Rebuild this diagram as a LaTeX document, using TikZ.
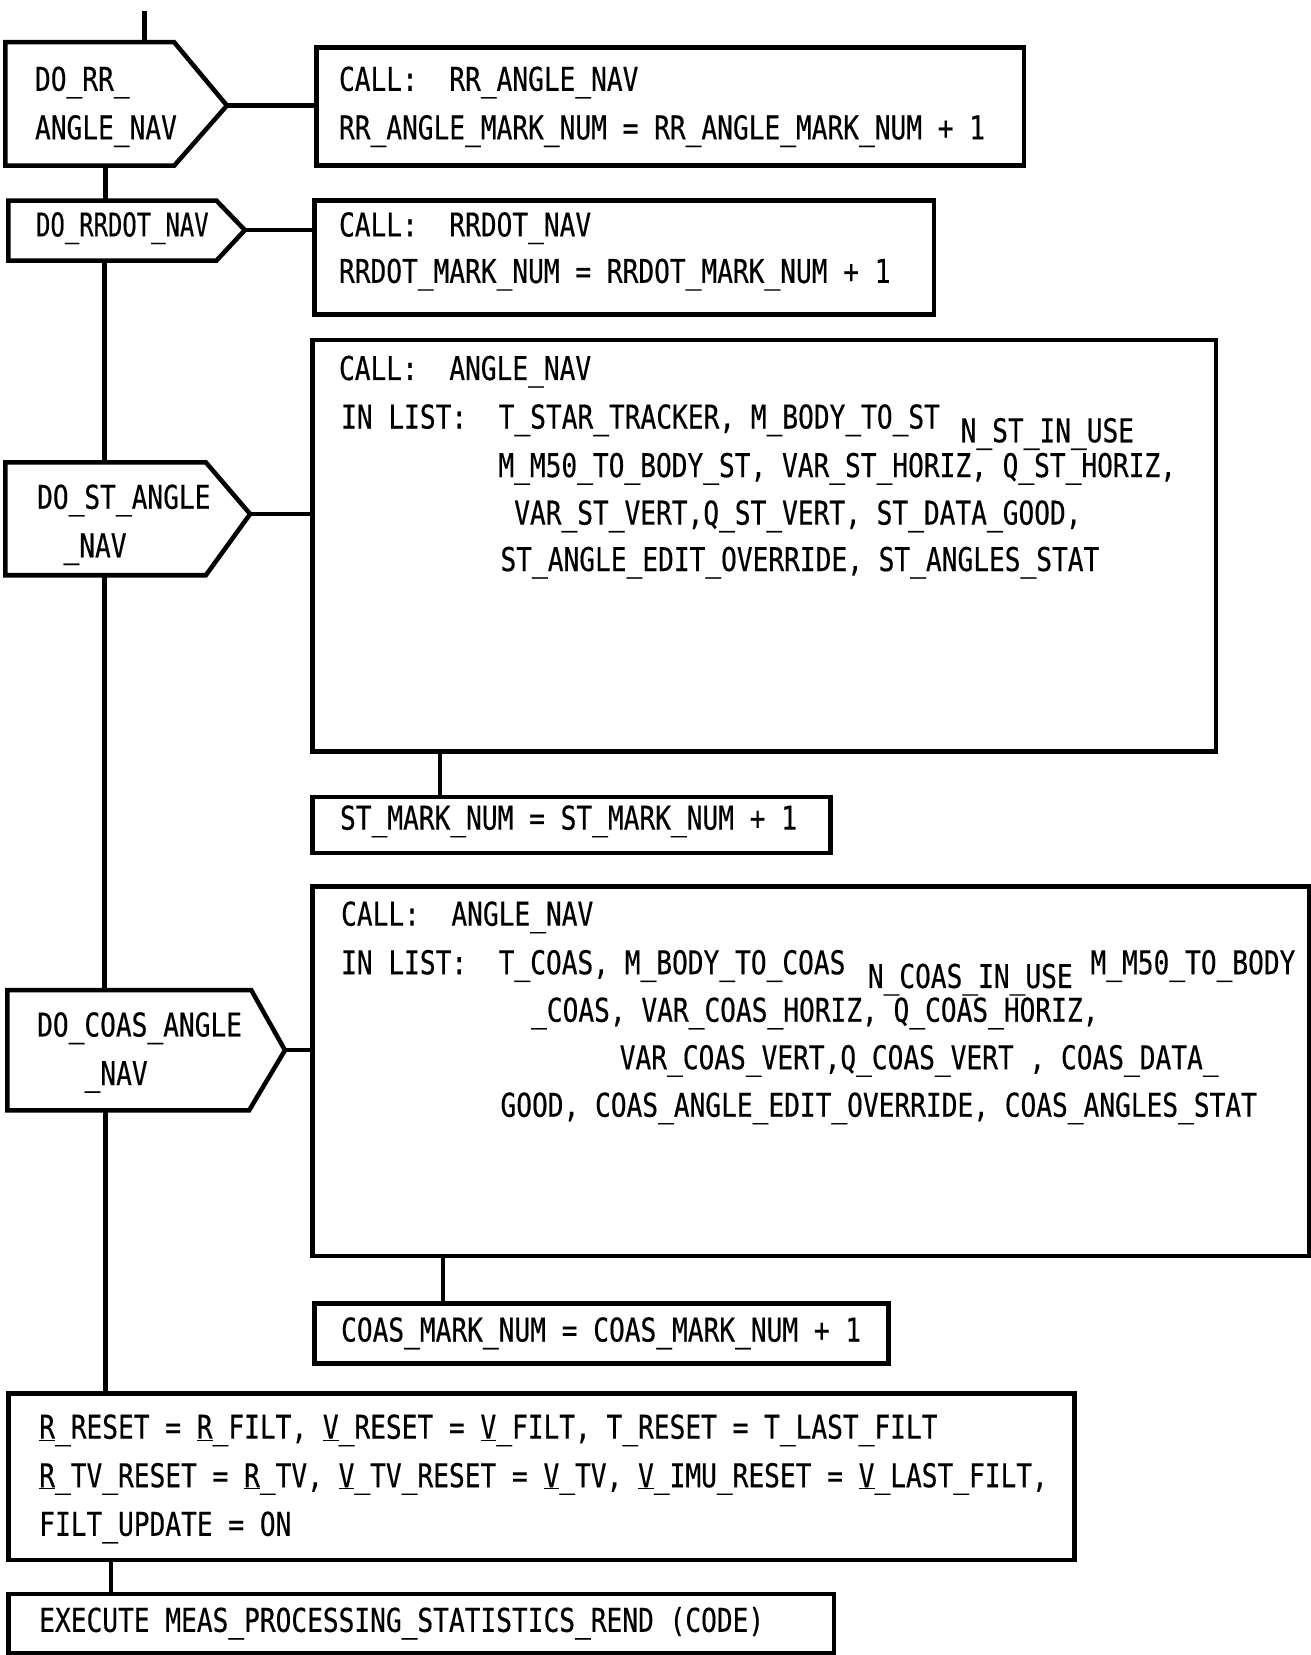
\documentclass[tikz,border=0pt]{standalone}
\usepackage{fontspec}
\newfontfamily\monofnt[FakeStretch=0.80,FakeBold=0.4]{DejaVu Sans Mono}
\newfontfamily\monofntn[FakeStretch=0.73,FakeBold=0.4]{DejaVu Sans Mono}
\begin{document}
\begin{tikzpicture}[x=1pt,y=-1pt,
  box/.style={draw, line width=4.3pt, anchor=north west, inner sep=0pt, outer sep=0pt},
  ln/.style={line width=4pt},
  hex/.style={line width=4.3pt, line join=miter},
  txt/.style={anchor=base west, inner sep=0pt, font=\monofnt\fontsize{31}{31}\selectfont},
  txtn/.style={anchor=base west, inner sep=0pt, font=\monofntn\fontsize{31}{31}\selectfont},
]
\useasboundingbox (0,0) rectangle (1242,1568);

% boxes
\node[box, minimum width=670pt, minimum height=112pt] (b1) at (300,45) {};
\node[box, minimum width=587pt, minimum height=108pt] (b2) at (298,190) {};
\node[box, minimum width=856pt, minimum height=390pt] (b3) at (296,322) {};
\node[box, minimum width=491pt, minimum height=53pt] (b4) at (296,755) {};
\node[box, minimum width=944pt, minimum height=350pt] (b5) at (296,840) {};
\node[box, minimum width=544pt, minimum height=57pt] (b6) at (298,1235) {};
\node[box, minimum width=1010pt, minimum height=158pt] (b7) at (8,1320) {};
\node[box, minimum width=782pt, minimum height=56pt] (b8) at (8,1510) {};

% hexagonal decision/loop shapes
\draw[hex] (5,40) -- (165,40) -- (215,100) coordinate (h1tip) -- (165,157) -- (5,157) -- cycle;
\draw[hex] (8,190) -- (205,190) -- (232,218) coordinate (h2tip) -- (205,247) -- (8,247) -- cycle;
\draw[hex] (5,438) -- (195,438) -- (237,487) coordinate (h3tip) -- (195,545) -- (5,545) -- cycle;
\draw[hex] (7,938) -- (238,938) -- (270,995) coordinate (h4tip) -- (236,1052) -- (7,1052) -- cycle;

\coordinate (start) at (137,10);
\coordinate (h1n) at (137,40);
\coordinate (h1s) at (100,157);
\coordinate (h2n) at (100,190);
\coordinate (h2s) at (99,247);
\coordinate (h3n) at (99,438);
\coordinate (h3s) at (99,545);
\coordinate (h4n) at (99,938);
\coordinate (h4s) at (100,1052);

% connectors
\draw[ln] (start) -- (h1n);
\draw[ln] (h1s) -- (h2n);
\draw[ln] (h2s) -- (h3n);
\draw[ln] (h3s) -- (h4n);
\draw[ln] (h4s) -- ([xshift=92pt]b7.north west);
\draw[ln] (h1tip) -- (h1tip -| b1.west);
\draw[ln] (h2tip) -- (h2tip -| b2.west);
\draw[ln] (h3tip) -- (h3tip -| b3.west);
\draw[ln] (h4tip) -- (h4tip -| b5.west);
\draw[ln] ([xshift=121pt]b3.south west) -- ([xshift=121pt]b4.north west);
\draw[ln] ([xshift=124pt]b5.south west) -- ([xshift=122pt]b6.north west);
\draw[ln] ([xshift=97pt]b7.south west) -- ([xshift=97pt]b8.north west);

% texts
\node[txt] (h1a) at (33,86) {DO\_RR\_};
\node[txt] (h1b) at (33,132) {ANGLE\_NAV};
\node[txt] (b1a) at (321,86) {CALL:\ \ RR\_ANGLE\_NAV};
\node[txt] (b1b) at (321,132) {RR\_ANGLE\_MARK\_NUM = RR\_ANGLE\_MARK\_NUM + 1};

\node[txtn] (h2a) at (34,224) {DO\_RRDOT\_NAV};
\node[txt] (b2a) at (321,224) {CALL:\ \ RRDOT\_NAV};
\node[txt] (b2b) at (321,268) {RRDOT\_MARK\_NUM = RRDOT\_MARK\_NUM + 1};

\node[txt] (h3a) at (35,482) {DO\_ST\_ANGLE};
\node[txt] (h3b) at (60,528) {\_NAV};
\node[txt] (b3a) at (321,360) {CALL:\ \ ANGLE\_NAV};
\node[txt] (b3b) at (323,406) {IN LIST:\ \ T\_STAR\_TRACKER, M\_BODY\_TO\_ST};
\node[txt] (b3c) at (910,419) {N\_ST\_IN\_USE};
\node[txt] (b3d) at (472,452) {M\_M50\_TO\_BODY\_ST, VAR\_ST\_HORIZ, Q\_ST\_HORIZ,};
\node[txt] (b3e) at (487,497) {VAR\_ST\_VERT,Q\_ST\_VERT, ST\_DATA\_GOOD,};
\node[txt] (b3f) at (474,541) {ST\_ANGLE\_EDIT\_OVERRIDE, ST\_ANGLES\_STAT};

\node[txt] (b4a) at (322,786) {ST\_MARK\_NUM = ST\_MARK\_NUM + 1};

\node[txt] (h4a) at (35,982) {DO\_COAS\_ANGLE};
\node[txt] (h4b) at (80,1028) {\_NAV};
\node[txt] (b5a) at (323,877) {CALL:\ \ ANGLE\_NAV};
\node[txt] (b5b) at (323,923) {IN LIST:\ \ T\_COAS, M\_BODY\_TO\_COAS};
\node[txt] (b5c) at (822,936) {N\_COAS\_IN\_USE};
\node[txt] (b5d) at (1033,923) {M\_M50\_TO\_BODY};
\node[txt] (b5e) at (503,968) {\_COAS, VAR\_COAS\_HORIZ, Q\_COAS\_HORIZ,};
\node[txt] (b5f) at (587,1013) {VAR\_COAS\_VERT,Q\_COAS\_VERT , COAS\_DATA\_};
\node[txt] (b5g) at (474,1058) {GOOD, COAS\_ANGLE\_EDIT\_OVERRIDE, COAS\_ANGLES\_STAT};

\node[txt] (b6a) at (323,1271) {COAS\_MARK\_NUM = COAS\_MARK\_NUM + 1};

\node[txt] (b7a) at (37,1363) {\underline{R}\_RESET = \underline{R}\_FILT, \underline{V}\_RESET = \underline{V}\_FILT, T\_RESET = T\_LAST\_FILT};
\node[txt] (b7b) at (37,1409) {\underline{R}\_TV\_RESET = \underline{R}\_TV, \underline{V}\_TV\_RESET = \underline{V}\_TV, \underline{V}\_IMU\_RESET = \underline{V}\_LAST\_FILT,};
\node[txt] (b7c) at (37,1455) {FILT\_UPDATE = ON};

\node[txt] (b8a) at (37,1546) {EXECUTE MEAS\_PROCESSING\_STATISTICS\_REND (CODE)};
\end{tikzpicture}
\end{document}
